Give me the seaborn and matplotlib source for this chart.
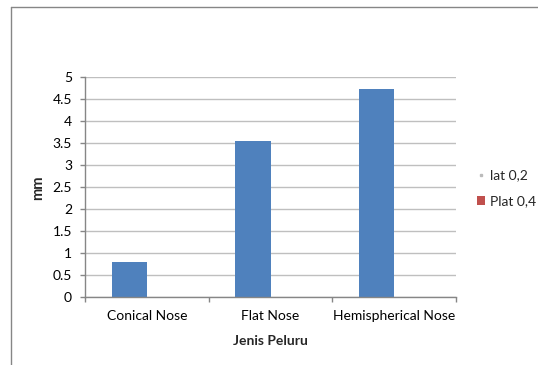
import matplotlib
matplotlib.use("Agg")
import matplotlib.pyplot as plt
import seaborn as sns
import pandas as pd
from matplotlib.lines import Line2D
from matplotlib.patches import Patch

categories = ["Conical Nose", "Flat Nose", "Hemispherical Nose"]
series_names = ["lat 0,2", "Plat 0,4"]
values_02 = [0.8, 3.56, 4.73]
values_04 = [0.0, 0.0, 0.0]
y_ticks = [0, 0.5, 1, 1.5, 2, 2.5, 3, 3.5, 4, 4.5, 5]
y_tick_labels = ["0", "0.5", "1", "1.5", "2", "2.5", "3", "3.5", "4", "4.5", "5"]

df = pd.DataFrame({
    "cat": categories * 2,
    "series": [series_names[0]] * 3 + [series_names[1]] * 3,
    "val": values_02 + values_04,
})

sns.set_theme(style="white")
FONT = ["Lato", "DejaVu Sans"]
plt.rcParams["font.family"] = FONT

fig = plt.figure(figsize=(5.38, 3.65), dpi=100)
ax = fig.add_axes([85 / 538, 1 - 297.3 / 365, (456 - 85) / 538, (297.3 - 77.3) / 365])

blue = "#4F81BD"
red = "#C0504D"
sns.barplot(data=df, x="cat", y="val", hue="series", order=categories,
            hue_order=series_names, palette=[blue, red], width=0.571,
            linewidth=0, saturation=1, ax=ax, legend=False)

grid_c = "#BFBFBF"
axis_c = "#868686"
ax.set_ylim(0, 5)
ax.set_xlim(-0.5, 2.5)
ax.set_yticks(y_ticks)
ax.set_yticklabels(y_tick_labels)
ax.yaxis.grid(True, color=grid_c, linewidth=1)
ax.set_axisbelow(True)
for s in ["top", "right"]:
    ax.spines[s].set_visible(False)
ax.spines["left"].set_color(axis_c)
ax.spines["bottom"].set_color(axis_c)
ax.spines["left"].set_linewidth(1)
ax.spines["bottom"].set_linewidth(1)

ax.tick_params(axis="y", which="major", left=True, length=3.6, width=1, color=axis_c,
               pad=5.8, labelsize=10, labelcolor="black")
ax.set_xticks([0, 1, 2])
ax.set_xticklabels(categories)
ax.tick_params(axis="x", which="major", bottom=False, length=0, pad=9.5, labelsize=10,
               labelcolor="black")
ax.set_xticks([-0.5, 0.5, 1.5, 2.5], minor=True)
ax.tick_params(axis="x", which="minor", bottom=True, length=3.6, width=1, color=axis_c)

ax.set_xlabel("Jenis Peluru", fontsize=10, fontweight="bold", labelpad=9)
ax.set_ylabel("mm", fontsize=10.5, fontweight="bold", labelpad=5)

handles = [Line2D([0], [0], marker="s", markersize=1.5, linestyle="none",
                  color="#BBBBBB"),
           Patch(facecolor=red, edgecolor="none")]
leg = fig.legend(handles, series_names, loc="center left",
                 bbox_to_anchor=(477 / 538, 1 - 188.5 / 365), frameon=False,
                 fontsize=10, handlelength=0.55, handleheight=0.55,
                 handletextpad=0.35, labelspacing=1.0, borderpad=0,
                 borderaxespad=0)

# chart frame lines
fig.add_artist(Line2D([11 / 538, 1.0], [1 - 6.7 / 365, 1 - 6.7 / 365],
                      transform=fig.transFigure, color=axis_c, linewidth=1))
fig.add_artist(Line2D([11 / 538, 11 / 538], [0, 1 - 6.7 / 365],
                      transform=fig.transFigure, color=axis_c, linewidth=1))

fig.savefig("out.png", dpi=100)
